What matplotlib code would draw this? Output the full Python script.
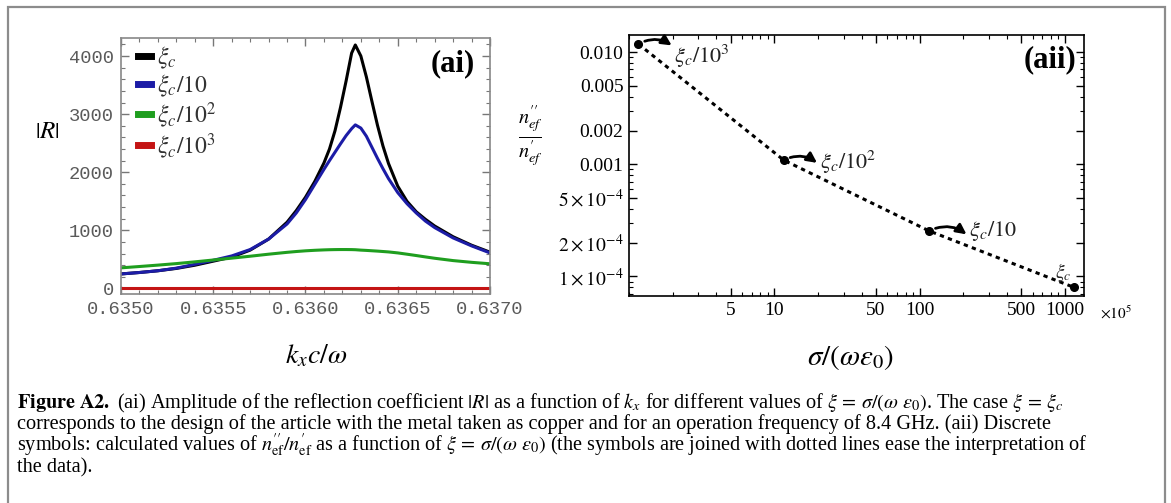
import matplotlib.pyplot as plt
from matplotlib.lines import Line2D
from matplotlib.patches import Rectangle
from matplotlib.ticker import (MultipleLocator, AutoMinorLocator, FixedLocator,
                               FixedFormatter, LogLocator, NullFormatter)

plt.rcParams['font.family'] = ['Liberation Serif', 'DejaVu Serif']
plt.rcParams['mathtext.fontset'] = 'stix'

# ---- panel (ai): |R| vs kx c / omega
kx = [0.6350, 0.6351, 0.6352, 0.6353, 0.6354, 0.6355, 0.6356, 0.6357, 0.6358,
      0.6359, 0.63595, 0.6360, 0.63605, 0.6361, 0.63613, 0.63616, 0.63619,
      0.63622, 0.63625, 0.63627, 0.6363, 0.63633, 0.63636, 0.63639, 0.63642,
      0.63645, 0.6365, 0.63655, 0.6366, 0.63665, 0.6367, 0.6368, 0.6369, 0.6370]
r_xi_c = [250, 275, 305, 345, 400, 470, 540, 660, 850, 1140, 1340, 1570, 1840,
          2160, 2400, 2715, 3120, 3570, 4050, 4190, 4000, 3640, 3220, 2810,
          2450, 2150, 1760, 1500, 1320, 1190, 1075, 890, 745, 625]
r_xi_c_10 = [250, 275, 305, 350, 415, 485, 560, 670, 850, 1110, 1300, 1530,
             1790, 2050, 2200, 2345, 2490, 2630, 2750, 2815, 2760, 2620, 2430,
             2240, 2060, 1890, 1650, 1460, 1300, 1160, 1048, 870, 733, 612]
r_xi_c_100 = [355, 378, 402, 428, 458, 490, 522, 555, 590, 622, 636, 648, 657,
              664, 667, 669, 670, 670, 669, 667, 660, 655, 649, 643, 636, 629,
              612, 590, 567, 543, 520, 480, 450, 425]
kx_1000 = [0.6350, 0.6360, 0.6370]
r_xi_c_1000 = [6, 6, 6]

curve_labels = [r'$\xi_c$', r'$\xi_c/10$', r'$\xi_c/10^2$', r'$\xi_c/10^3$']
curve_colors = ['#000000', '#1c1ca6', '#1f9e1f', '#c41414']

# ---- panel (aii): n''/n' vs sigma/(omega eps0), in units of 1e5
sigma_vals = [1.16, 11.6, 116, 1160]
ratio_vals = [0.0118, 0.00109, 0.000255, 0.0000798]
point_labels = [r'$\xi_c/10^3$', r'$\xi_c/10^2$', r'$\xi_c/10$', r'$\xi_c$']

W, H = 1171, 503
fig = plt.figure(figsize=(W / 100, H / 100), dpi=100)

# outer frame of the figure
fig.add_artist(Rectangle((8 / W, -0.05), 1157 / W, 1 - 7 / H + 0.05,
                         transform=fig.transFigure, fill=False,
                         edgecolor='#8c8c8c', linewidth=1.6))

# ---------------- (ai)
ax1 = fig.add_axes([121 / W, 1 - 294 / H, 369 / W, 256 / H])
ax1.plot(kx, r_xi_c, color=curve_colors[0], lw=2.2)
ax1.plot(kx, r_xi_c_10, color=curve_colors[1], lw=2.2)
ax1.plot(kx, r_xi_c_100, color=curve_colors[2], lw=2.2)
ax1.plot(kx_1000, r_xi_c_1000, color=curve_colors[3], lw=2.2)
ax1.set_xlim(0.6350, 0.6370)
ax1.set_ylim(-95, 4310)
ax1.set_xticks([0.6350, 0.6355, 0.6360, 0.6365, 0.6370])
ax1.set_xticklabels(['0.6350', '0.6355', '0.6360', '0.6365', '0.6370'])
ax1.yaxis.set_major_locator(MultipleLocator(1000))
ax1.xaxis.set_minor_locator(AutoMinorLocator(5))
ax1.yaxis.set_minor_locator(AutoMinorLocator(5))
ax1.tick_params(which='both', direction='in', top=True, right=True,
                color='#777777', labelcolor='#5a5a5a', labelsize=13.5, pad=5)
ax1.tick_params(which='major', length=6, width=1)
ax1.tick_params(which='minor', length=3, width=0.8)
for lab in ax1.get_xticklabels() + ax1.get_yticklabels():
    lab.set_family('Liberation Mono')
for sp in ax1.spines.values():
    sp.set_color('#888888')
    sp.set_linewidth(1.2)

handles = [Line2D([], [], color=c, lw=5) for c in curve_colors]
leg = ax1.legend(handles, curve_labels, loc='upper left', frameon=False,
                 fontsize=17, handlelength=0.55, handletextpad=0.25,
                 labelspacing=0.05, borderaxespad=0.0,
                 bbox_to_anchor=(0.02, 1.01))
for t in leg.get_texts():
    t.set_color('#333333')

ax1.text(0.96, 0.90, '(ai)', transform=ax1.transAxes, ha='right',
         va='center', fontsize=22, fontweight='bold')
ax1.set_xlabel(r'$k_x c/\omega$', fontsize=20)
ax1.xaxis.set_label_coords(0.528, -0.19)
ax1.set_ylabel(r'$\left|R\right|$', fontsize=18, rotation=0, va='center')
ax1.yaxis.set_label_coords(-0.2, 0.633)

# ---------------- (aii)
ax2 = fig.add_axes([629 / W, 1 - 296 / H, 455 / W, 261 / H])
ax2.set_xscale('log')
ax2.set_yscale('log')
ax2.plot(sigma_vals, ratio_vals, color='black', lw=2.2, linestyle=(0, (1.4, 1.4)))
ax2.plot(sigma_vals, ratio_vals, 'o', color='black', markersize=5.5)
ax2.set_xlim(1.0, 1352)
ax2.set_ylim(6.7e-5, 0.0142)

ax2.xaxis.set_major_locator(FixedLocator([5, 10, 50, 100, 500, 1000]))
ax2.xaxis.set_major_formatter(FixedFormatter(['5', '10', '50', '100', '500', '1000']))
ax2.xaxis.set_minor_locator(LogLocator(base=10, subs=range(1, 10), numticks=20))
ax2.xaxis.set_minor_formatter(NullFormatter())
ax2.yaxis.set_major_locator(FixedLocator([1e-4, 2e-4, 5e-4, 1e-3, 2e-3, 5e-3, 1e-2]))
ax2.yaxis.set_major_formatter(FixedFormatter(
    [r'$1\times10^{-4}$', r'$2\times10^{-4}$', r'$5\times10^{-4}$',
     '0.001', '0.002', '0.005', '0.010']))
ax2.yaxis.set_minor_locator(LogLocator(base=10, subs=range(1, 10), numticks=20))
ax2.yaxis.set_minor_formatter(NullFormatter())
ax2.tick_params(which='both', direction='in', top=True, right=True,
                labelsize=14, pad=4)
ax2.tick_params(which='major', length=6, width=1)
ax2.tick_params(which='minor', length=3, width=0.8)
for sp in ax2.spines.values():
    sp.set_linewidth(1.2)

# curved arrows (head on the label side) and labels next to the points
arrow_heads = [(24, -1), (24, -2), (27, -2.5)]
label_offsets = [(26, -9), (26, -1.5), (29, 0)]
for i in range(3):
    ax2.annotate('', xy=(sigma_vals[i], ratio_vals[i]),
                 xytext=arrow_heads[i], textcoords='offset points',
                 arrowprops=dict(arrowstyle='<|-', color='black', lw=2,
                                 shrinkA=0, shrinkB=5, mutation_scale=15,
                                 connectionstyle='arc3,rad=0.3'))
    ax2.annotate(point_labels[i], xy=(sigma_vals[i], ratio_vals[i]),
                 xytext=label_offsets[i], textcoords='offset points',
                 ha='left', va='center', fontsize=16, color='#222222')
ax2.annotate(point_labels[3], xy=(sigma_vals[3], ratio_vals[3]),
             xytext=(-8, 11), textcoords='offset points', ha='center',
             va='center', fontsize=14, color='#222222')

ax2.text(0.983, 0.905, '(aii)', transform=ax2.transAxes, ha='right',
         va='center', fontsize=22, fontweight='bold')
ax2.text(1.035, -0.065, r'$\times10^5$', transform=ax2.transAxes, ha='left',
         va='center', fontsize=11)
ax2.set_xlabel(r'$\sigma/(\omega\varepsilon_0)$', fontsize=21)
ax2.xaxis.set_label_coords(0.486, -0.18)
ax2.set_ylabel(r'$\frac{n^{\prime\prime}_{ef}}{n^{\prime}_{ef}}$', fontsize=21,
               rotation=0, va='center')
ax2.yaxis.set_label_coords(-0.217, 0.609)

# ---------------- caption
caption = [
    r'$\mathbf{Figure\ A2.}$ (ai) Amplitude of the reflection coefficient $|R|$ as a function of $k_x$ for different values of $\xi\,=\,\sigma/(\omega\ \varepsilon_0)$. The case $\xi\,=\,\xi_c$',
    'corresponds to the design of the article with the metal taken as copper and for an operation frequency of 8.4 GHz. (aii) Discrete',
    r'symbols: calculated values of $n^{\prime\prime}_{\rm ef}/n^{\prime}_{\rm ef}$ as a function of $\xi\,=\,\sigma/(\omega\ \varepsilon_0)$ (the symbols are joined with dotted lines ease the interpretation of',
    'the data).',
]
baselines = [408, 429, 451, 472]
for line, yb in zip(caption, baselines):
    fig.text(17 / W, 1 - yb / H, line, fontsize=14.6, va='baseline', ha='left')

fig.savefig('out.png', dpi=100)
